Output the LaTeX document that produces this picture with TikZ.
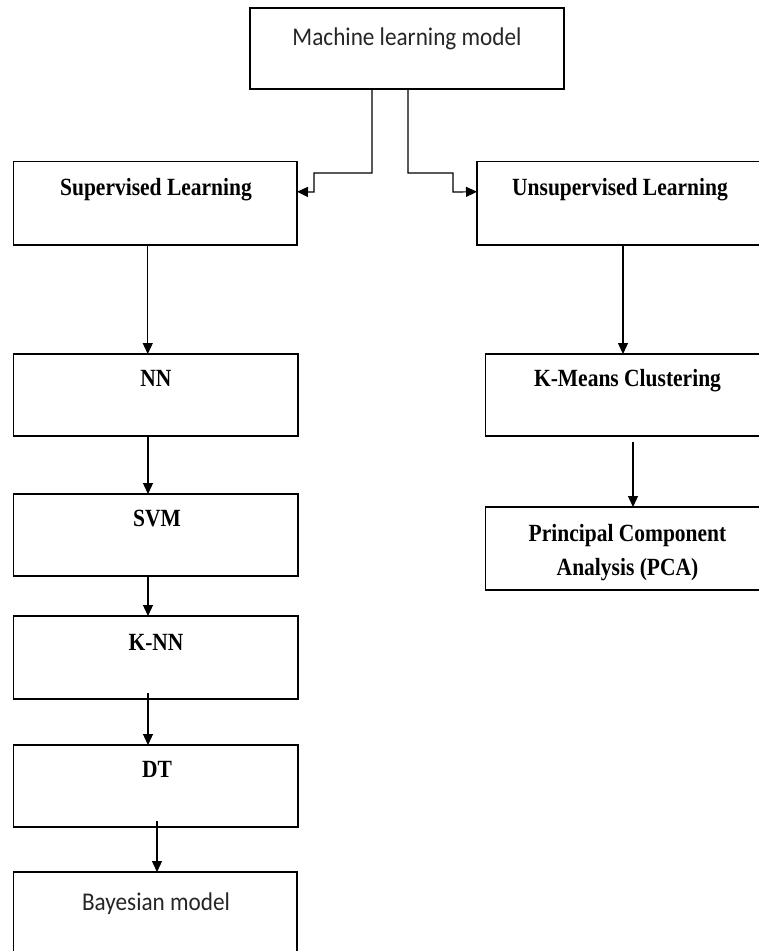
\documentclass[tikz,border=0pt]{standalone}
\usepackage{fontspec}
\usepackage{graphicx}
\setmainfont{Liberation Serif}
\newfontfamily\calfont{Carlito}
\usetikzlibrary{arrows.meta}
\newcommand{\vs}[1]{\scalebox{1}[1.15]{#1}}
\newcommand{\vc}[1]{\scalebox{1}[1.1]{#1}}
\begin{document}
\begin{tikzpicture}[x=1pt,y=-1pt,
  box/.style={draw, line width=1.5pt, rectangle, inner sep=0pt, outer sep=0pt},
  arr/.style={line width=1.2pt, -{Triangle[length=11pt,width=10pt]}},
  bt/.style={font=\fontsize{21.5}{26}\selectfont\bfseries, anchor=base, inner sep=0pt},
  ct/.style={font=\fontsize{23.2}{28}\selectfont\calfont, anchor=base, inner sep=0pt, text=black!85}]
\clip (0,0) rectangle (759,951);
\fill[white] (0,0) rectangle (759,951);

% boxes
\node[box, minimum width=314pt, minimum height=81pt] (top) at (407,48.5) {};
\node[box, minimum width=283.5pt, minimum height=83.5pt] (sup) at (155.25,203.25) {};
\node[box, minimum width=323pt, minimum height=83.5pt] (unsup) at (638.5,203.25) {};
\node[box, minimum width=284.5pt, minimum height=82pt] (nn) at (155.75,395) {};
\node[box, minimum width=314.5pt, minimum height=82pt] (km) at (642.75,395) {};
\node[box, minimum width=314.5pt, minimum height=83pt] (pca) at (642.75,548.5) {};
\node[box, minimum width=284.5pt, minimum height=82pt] (svm) at (155.75,535) {};
\node[box, minimum width=284.5pt, minimum height=83pt] (knn) at (155.75,657.5) {};
\node[box, minimum width=284.5pt, minimum height=82pt] (dt) at (155.75,786) {};
\node[box, minimum width=283.5pt, minimum height=128pt] (bay) at (155.25,936) {};

% texts
\node[ct] (ttop) at (407,45) {\vc{Machine learning model}};
\node[bt] (tsup) at (156,195) {\vs{Supervised Learning}};
\node[bt] (tunsup) at (620,195) {\vs{Unsupervised Learning}};
\node[bt] (tnn) at (156,386.5) {\vs{NN}};
\node[bt] (tkm) at (627.5,386.7) {\vs{K-Means Clustering}};
\node[bt] (tpca1) at (627.5,541.7) {\vs{Principal Component}};
\node[bt] (tpca2) at (627.5,575) {\vs{Analysis (PCA)}};
\node[bt] (tsvm) at (157,526.7) {\vs{SVM}};
\node[bt] (tknn) at (156,650) {\vs{K-NN}};
\node[bt] (tdt) at (157,777.7) {\vs{DT}};
\node[ct] (tbay) at (156,910) {\vc{Bayesian model}};

% connectors
\draw[arr] ([xshift=-35pt]top.south) -- ++(0,84) -- ++(-58,0) -- ++(0,19) -- ([yshift=11.5pt]sup.east);
\draw[arr] ([xshift=1pt]top.south) -- ++(0,84) -- ++(45,0) -- ++(0,19) -- ([yshift=11.5pt]unsup.west);
\draw[arr] ([xshift=-7.5pt]sup.south) -- ([xshift=-7.5pt]sup.south |- nn.north);
\draw[arr] ([xshift=-15.5pt]unsup.south) -- ([xshift=-15.5pt]unsup.south |- km.north);
\draw[arr] ([xshift=-9.75pt,yshift=-6pt]km.south) -- ([xshift=-9.75pt]km.south |- pca.north);
\draw[arr] ([xshift=-7.75pt]nn.south) -- ([xshift=-7.75pt]nn.south |- svm.north);
\draw[arr] ([xshift=-7.75pt]svm.south) -- ([xshift=-7.75pt]svm.south |- knn.north);
\draw[arr] ([xshift=-7.75pt,yshift=6pt]knn.south) -- ([xshift=-7.75pt]knn.south |- dt.north);
\draw[arr] ([xshift=1.25pt,yshift=6pt]dt.south) -- ([xshift=1.25pt]dt.south |- bay.north);
\end{tikzpicture}
\end{document}
